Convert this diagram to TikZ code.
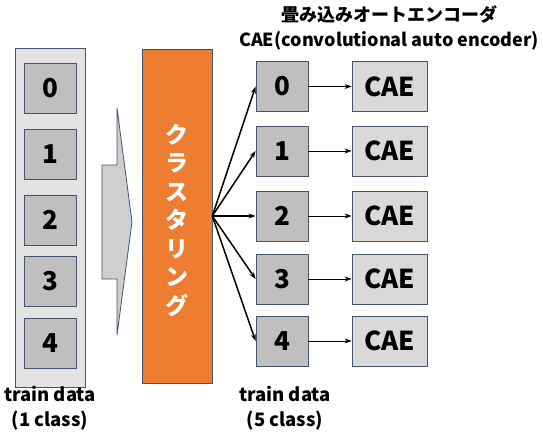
\documentclass[tikz,border=0pt]{standalone}
\usepackage{fontspec}
\setmainfont{Noto Sans CJK JP}
\usepackage{tikz}
\usetikzlibrary{arrows.meta}
\definecolor{Frame}{HTML}{44546A}
\definecolor{Panel}{HTML}{E4E3E3}
\definecolor{Cell}{HTML}{BFBFBF}
\definecolor{Light}{HTML}{D9D9D9}
\definecolor{Orange}{HTML}{ED7D31}
\definecolor{Chevron}{HTML}{D0CECE}

\begin{document}
\begin{tikzpicture}[x=1pt,y=-1pt,
    cell/.style={draw=Frame,fill=Cell,line width=.8pt,minimum width=52pt,minimum height=50pt,font=\fontsize{26}{26}\selectfont\bfseries},
    caebox/.style={cell,fill=Light,minimum width=75pt},
    caption/.style={align=center,font=\fontsize{18.5}{25}\selectfont\bfseries},
    fan/.style={-{Stealth[length=7pt,width=5pt]},line width=1.5pt},
    link/.style={-{Stealth[length=7pt,width=5pt]},line width=.8pt}]
  \useasboundingbox (0,0) rectangle (543,436);
  % left: one class
  \node[draw=Frame,fill=Panel,line width=.8pt,minimum width=70pt,minimum height=339pt] (panel) at (50,217.5) {};
  \foreach \i/\y in {0/88,1/154,2/220,3/281.5,4/343}
    \node[cell] (l\i) at (50,\y) {\i};
  \node[caption] (lcap) at (50,408) {train data\\(1 class)};
  % chevron
  \path[fill=Chevron,draw=Frame,line width=.8pt] (102,165) -- (117,165) -- (117,108) -- (132,222) -- (117,335) -- (117,279) -- (102,279) -- cycle;
  % clustering
  \node[draw=Frame,fill=Orange,line width=.6pt,minimum width=70pt,minimum height=334pt] (clus) at (177,216) {};
  \node[text=white,align=center,font=\fontsize{23}{28.5}\selectfont\bfseries] (clustxt) at (177,220) {ク\\ラ\\ス\\タ\\リ\\ン\\グ};
  % right: five classes
  \foreach \i/\y in {0/86.5,1/151,2/216,3/279,4/341} {
    \node[cell] (r\i) at (282,\y) {\i};
    \node[caebox] (c\i) at (389.5,\y) {CAE};
    \draw[fan] (clus.east) -- (r\i.west);
    \draw[link] (r\i.east) -- (c\i.west);
  }
  \node[caption] (rcap) at (285,408) {train data\\(5 class)};
  \node[caption,font=\fontsize{18}{25}\selectfont\bfseries] (title) at (389,28) {畳み込みオートエンコーダ\\CAE(convolutional auto encoder)};
\end{tikzpicture}
\end{document}
